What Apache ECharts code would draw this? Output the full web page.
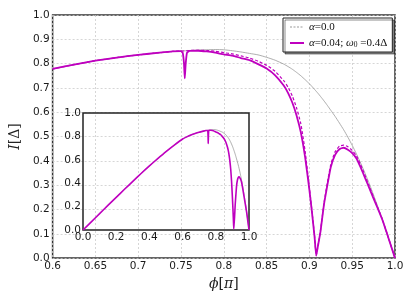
<!DOCTYPE html>
<html>
<head>
<meta charset="utf-8">
<script src="https://cdn.jsdelivr.net/npm/echarts@6/dist/echarts.min.js"></script>
<style>html,body{margin:0;padding:0;background:#fff}#c{width:415px;height:296px}</style>
</head>
<body>
<div id="c"></div>
<script>
// ---- data ----
var phi = [0.60,0.625,0.65,0.675,0.70,0.725,0.74,0.75,0.752,0.7535,0.7544,0.7555,0.757,0.76,0.77,0.78,0.79,0.80,0.81,0.82,0.83,0.84,0.85,0.86,0.87,0.875,0.88,0.885,0.89,0.895,0.90,0.903,0.906,0.908,0.910,0.913,0.917,0.921,0.925,0.93,0.935,0.94,0.945,0.95,0.955,0.96,0.965,0.97,0.975,0.98,0.985,0.99,0.995,1.0];
var currentAlpha0 = [0.778,0.796,0.812,0.825,0.836,0.845,0.850,0.852,0.853,0.853,0.853,0.853,0.854,0.854,0.856,0.857,0.858,0.857,0.853,0.848,0.842,0.836,0.826,0.814,0.798,0.788,0.777,0.764,0.750,0.734,0.717,0.706,0.694,0.686,0.678,0.665,0.647,0.628,0.608,0.583,0.556,0.528,0.497,0.464,0.428,0.390,0.349,0.306,0.259,0.211,0.161,0.108,0.054,0.0];
var currentAlpha004 = [0.778,0.796,0.812,0.825,0.836,0.845,0.850,0.851,0.845,0.800,0.739,0.800,0.845,0.852,0.853,0.850,0.845,0.838,0.833,0.823,0.814,0.798,0.780,0.752,0.710,0.680,0.640,0.587,0.517,0.415,0.280,0.188,0.088,0.010,0.050,0.110,0.220,0.300,0.375,0.425,0.448,0.454,0.446,0.432,0.410,0.372,0.330,0.288,0.245,0.203,0.160,0.108,0.054,0.0];
var currentApprox = [0.778,0.796,0.812,0.825,0.836,0.845,0.850,0.852,0.852,0.852,0.852,0.853,0.853,0.854,0.855,0.854,0.851,0.845,0.840,0.832,0.823,0.810,0.793,0.768,0.730,0.703,0.667,0.618,0.552,0.440,0.290,0.193,0.092,0.010,0.052,0.115,0.225,0.310,0.385,0.437,0.460,0.465,0.458,0.443,0.420,0.383,0.340,0.295,0.250,0.206,0.162,0.109,0.055,0.0];
// inset: the low-phase part (phi < 0.6), continued by the arrays above
var phiLow = [0.0,0.05,0.10,0.15,0.20,0.25,0.30,0.35,0.40,0.45,0.50,0.55];
var currentLow = [0.0,0.070,0.140,0.210,0.279,0.348,0.416,0.483,0.548,0.610,0.670,0.726];

var xTickLabels = ['0.6','0.65','0.7','0.75','0.8','0.85','0.9','0.95','1.0'];
var yTickLabels = ['0.0','0.1','0.2','0.3','0.4','0.5','0.6','0.7','0.8','0.9','1.0'];
var insetTickLabels = ['0.0','0.2','0.4','0.6','0.8','1.0'];

var nameA = 'α=0.0';
var nameB = 'α=0.04; ω0 =0.4Δ';

function pairs(xs, ys){ return xs.map(function(x,i){ return [x, ys[i]]; }); }
var phiAll = phiLow.concat(phi);

var MAG = '#bf00bf';
var tickFont = {fontFamily:'DejaVu Sans', fontSize:10.5, color:'#1a1a1a'};
var serif = 'Liberation Serif';
var mathSerif = 'DejaVu Serif';

var chart = echarts.init(document.getElementById('c'), null, {renderer:'canvas'});
chart.setOption({
  animation:false,
  backgroundColor:'#fff',
  grid:[
    {left:46, top:15, right:20, bottom:29, show:true, borderColor:'#333', borderWidth:1.5, backgroundColor:'transparent', containLabel:false},
    {left:83, top:113, width:166, height:117, show:true, borderColor:'#222', borderWidth:1.5, backgroundColor:'transparent', containLabel:false, z:5}
  ],
  legend:{
    show:true, orient:'vertical', left:283, top:18,
    backgroundColor:'#fff', borderColor:'#222', borderWidth:1, borderRadius:0,
    shadowColor:'rgba(0,0,0,0.45)', shadowOffsetX:2, shadowOffsetY:2, shadowBlur:0,
    padding:[3,5,3,6], itemGap:4, itemWidth:14, itemHeight:11,
    itemStyle:{opacity:0},
    data:[
      {name:nameA, lineStyle:{type:[2,1.5], width:1, color:'#999'}},
      {name:nameB, lineStyle:{width:2, color:MAG}}
    ],
    formatter:function(n){
      return n === nameA ? '{g|α}=0.0' : '{g|α}=0.04; {g|ω}{s|0} =0.4Δ';
    },
    textStyle:{fontFamily:serif, fontSize:11, lineHeight:12, color:'#111',
      rich:{g:{fontFamily:serif, fontStyle:'italic', fontSize:11, lineHeight:12},
            s:{fontFamily:serif, fontSize:7.5, lineHeight:7, verticalAlign:'bottom'}}}
  },
  xAxis:[
    {type:'value', gridIndex:0, min:0.6, max:1.0, interval:0.05,
     axisLine:{show:false}, axisTick:{show:false},
     axisLabel:Object.assign({margin:3, formatter:function(v){return xTickLabels[Math.round((v-0.6)/0.05)];}}, tickFont),
     splitLine:{show:true, lineStyle:{color:'#ccc', type:[2,2], width:0.8}},
     name:'{i|ϕ}[{i|π}]', nameLocation:'middle', nameGap:17,
     nameTextStyle:{fontFamily:mathSerif, fontSize:14, color:'#222', rich:{i:{fontFamily:mathSerif, fontStyle:'italic', fontSize:14}}}
    },
    {type:'value', gridIndex:1, min:0, max:1.0, interval:0.2,
     axisLine:{show:false}, axisTick:{show:false},
     axisLabel:Object.assign({margin:2, formatter:function(v){return insetTickLabels[Math.round(v/0.2)];}}, tickFont),
     splitLine:{show:false}
    }
  ],
  yAxis:[
    {type:'value', gridIndex:0, min:0, max:1.0, interval:0.1,
     axisLine:{show:false}, axisTick:{show:false},
     axisLabel:Object.assign({margin:3, formatter:function(v){return yTickLabels[Math.round(v/0.1)];}}, tickFont),
     splitLine:{show:true, lineStyle:{color:'#ccc', type:[2,2], width:0.8}},
     name:'{i|I}[Δ]', nameLocation:'middle', nameGap:12, nameRotate:90,
     nameTextStyle:{fontFamily:mathSerif, fontSize:14, color:'#222', rich:{i:{fontFamily:mathSerif, fontStyle:'italic', fontSize:14}}}
    },
    {type:'value', gridIndex:1, min:0, max:1.0, interval:0.2,
     axisLine:{show:false}, axisTick:{show:false},
     axisLabel:Object.assign({margin:2, formatter:function(v){return insetTickLabels[Math.round(v/0.2)];}}, tickFont),
     splitLine:{show:false}
    }
  ],
  series:[
    {name:nameA, type:'line', xAxisIndex:0, yAxisIndex:0, symbol:'none', smooth:0.2,
     data:pairs(phi, currentAlpha0), lineStyle:{color:'#999', width:0.8}, itemStyle:{color:'#999'}, z:2},
    {name:'approx', type:'line', xAxisIndex:0, yAxisIndex:0, symbol:'none', smooth:0.2,
     data:pairs(phi, currentApprox), lineStyle:{color:MAG, width:1.2, type:[3,2]}, itemStyle:{color:MAG}, z:3},
    {name:nameB, type:'line', xAxisIndex:0, yAxisIndex:0, symbol:'none', smooth:0.15,
     data:pairs(phi, currentAlpha004), lineStyle:{color:MAG, width:1.8}, itemStyle:{color:MAG}, z:4},
    {name:'inset0', type:'line', xAxisIndex:1, yAxisIndex:1, symbol:'none', smooth:0.2,
     data:pairs(phiAll, currentLow.concat(currentAlpha0)), lineStyle:{color:'#999', width:0.8}, z:6},
    {name:'inset1', type:'line', xAxisIndex:1, yAxisIndex:1, symbol:'none', smooth:0.15,
     data:pairs(phiAll, currentLow.concat(currentAlpha004)), lineStyle:{color:MAG, width:1.6}, z:7}
  ]
});
</script>
</body>
</html>
